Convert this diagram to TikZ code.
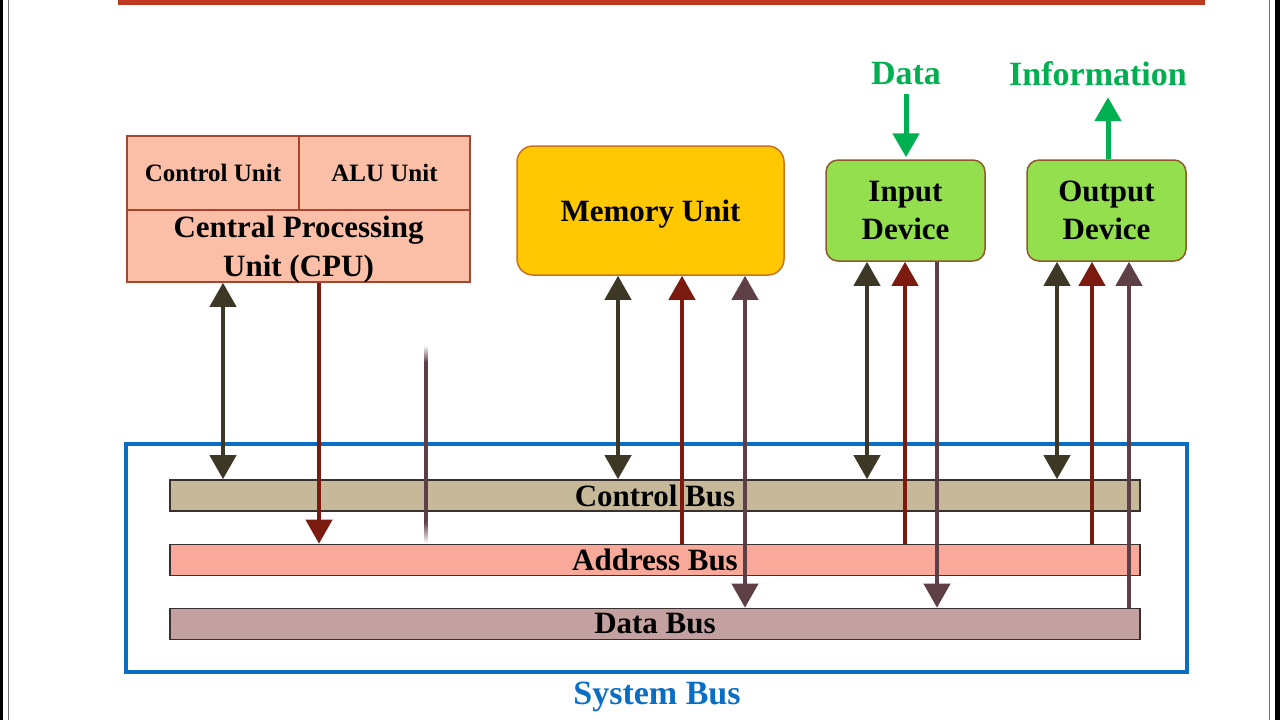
\documentclass[tikz,border=0pt]{standalone}
\usepackage{fontspec}
\setmainfont{Liberation Serif}
\usetikzlibrary{arrows.meta}

\definecolor{cpufill}{HTML}{FBBEA6}
\definecolor{cpuline}{HTML}{A8452E}
\definecolor{memfill}{HTML}{FFC800}
\definecolor{memline}{HTML}{C8741A}
\definecolor{devfill}{HTML}{94DF4E}
\definecolor{devline}{HTML}{8E5A2A}
\definecolor{gtext}{HTML}{00B050}
\definecolor{sysblue}{HTML}{0A6EC4}
\definecolor{busline}{HTML}{3A3030}
\definecolor{ctlfill}{HTML}{C6B99A}
\definecolor{adrfill}{HTML}{F8A99A}
\definecolor{datfill}{HTML}{C4A1A1}
\definecolor{ctlc}{HTML}{3D3826}
\definecolor{adrc}{HTML}{7B1B10}
\definecolor{datc}{HTML}{5E3F46}
\definecolor{topred}{HTML}{BF3A1E}

\begin{document}
\begin{tikzpicture} [
                x=0.5pt, y=-0.5pt,
                unit/.style={draw=cpuline, line width=0.75pt, fill=cpufill, inner sep=0pt,
                    minimum height=37pt, font=\bfseries\fontsize{12.5}{14}\selectfont},
                cpubox/.style={unit, minimum width=171.5pt, minimum height=36pt, align=center,
                    text depth=0pt, font=\bfseries\fontsize{15.5}{19.5}\selectfont},
                membox/.style={draw=memline, line width=0.75pt, fill=memfill, rounded corners=8pt,
                    minimum width=133.5pt, minimum height=64.5pt, text depth=0pt,
                    font=\bfseries\fontsize{15.5}{19}\selectfont},
                devbox/.style={draw=devline, line width=0.75pt, fill=devfill, rounded corners=6pt,
                    minimum width=79.5pt, minimum height=50.5pt, align=center,
                    font=\bfseries\fontsize{15.5}{19}\selectfont},
                bus/.style={draw=busline, line width=0.8pt, inner sep=0pt,
                    minimum width=485pt, minimum height=15.5pt,
                    font=\bfseries\fontsize{15.5}{17}\selectfont},
                tag/.style={font=\bfseries\fontsize{17}{19}\selectfont},
                ctlarrow/.style={draw=ctlc, fill=ctlc, line width=2pt, {Triangle[width=13pt,length=12pt]}-{Triangle[width=13pt,length=12pt]}},
                adrarrow/.style={draw=adrc, fill=adrc, line width=2pt, -{Triangle[width=13pt,length=12pt]}},
                datarrow/.style={draw=datc, fill=datc, line width=2pt, -{Triangle[width=13pt,length=12pt]}},
                inout/.style={draw=gtext, fill=gtext, line width=2.5pt, -{Triangle[width=13pt,length=12pt]}},
            ]
            \useasboundingbox (0,0) rectangle (1280,720);
            % slide edges and top rule
            \fill[black] (0,0) rectangle (2.5,720);
            \fill[black!55] (7.5,0) rectangle (8.5,720);
            \fill[black!55] (1269,0) rectangle (1270,720);
            \fill[black] (1274.5,0) rectangle (1280,720);
            \fill[topred] (118,0) rectangle (1205,4.5);

            % units
            \node[unit, minimum width=86pt] (cu) at (213,173) {Control Unit};
            \node[unit, minimum width=85.5pt] (alu) at (384.5,173) {ALU Unit};
            \node[cpubox] (cpu) at (298.5,246) {Central Processing\\Unit (CPU)};
            \node[membox] (mem) at (650.5,210.5) {Memory Unit};
            \foreach \pos/\name/\txt in {
                    {(905.5,210.5)/inp/Input}, {(1106.5,210.5)/out/Output}}
                \node[devbox] (\name) at \pos {\txt\\Device};
            \node[tag, text=gtext] (data) at (906,74) {Data};
            \node[tag, text=gtext] (info) at (1098,74) {Information};

            % system bus
            \node[draw=sysblue, line width=2pt, minimum width=530.5pt, minimum height=114pt] (sys) at (656.5,558) {};
            \node[tag, text=sysblue] (syslbl) at (657,697) {System Bus};
            \node[bus, fill=ctlfill] (ctl) at (655,495.5) {Control Bus};
            \node[bus, fill=adrfill] (adr) at (655,560) {Address Bus};
            \node[bus, fill=datfill] (dat) at (655,624) {Data Bus};

            % faded stub
            \shade[top color=white, bottom color=datc] (424,345) rectangle (427.5,362);
            \fill[datc] (424,362) rectangle (427.5,522);
            \shade[top color=datc, bottom color=white] (424,522) rectangle (427.5,543);

            % bus lines
            \foreach \x/\from in {223/cpu, 618/mem, 867/inp, 1057/out}
                \path[ctlarrow] (\from.south -| \x,0) -- (ctl.north -| \x,0);
            \path[adrarrow] (cpu.south -| 319,0) -- (adr.north -| 319,0);
            \foreach \x/\dest in {682/mem, 905/inp, 1092/out}
                \path[adrarrow] (adr.north -| \x,0) -- (\dest.south -| \x,0);
            \path[datarrow, {Triangle[width=13pt,length=12pt]}-{Triangle[width=13pt,length=12pt]}] (mem.south -| 745,0) -- (dat.north -| 745,0);
            \path[datarrow] (inp.south -| 937,0) -- (dat.north -| 937,0);
            \path[datarrow] (dat.north -| 1129,0) -- (out.south -| 1129,0);

            % outside world
            \path[inout, shorten <=1pt, shorten >=1pt] (data.south -| 906,0) -- (inp.north -| 906,0);
            \path[inout, shorten >=2pt] (out.north -| 1108,0) -- (info.south -| 1108,0);
        \end{tikzpicture}
\end{document}
